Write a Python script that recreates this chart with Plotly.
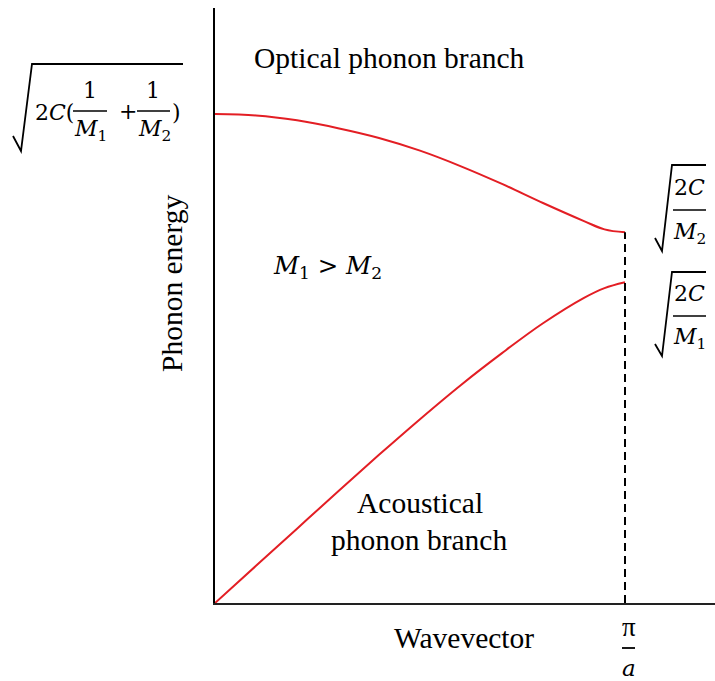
import plotly.graph_objects as go

# Wavevector in units of pi/a, energy in units of sqrt(2C(1/M1 + 1/M2))
optical_k = [0.0, 0.1, 0.2, 0.3, 0.4, 0.5, 0.6, 0.7, 0.8, 0.9, 0.95, 1.0]
optical_e = [1.0, 0.997, 0.987, 0.971, 0.951, 0.925, 0.893, 0.857, 0.818, 0.781, 0.764, 0.758]

acoustic_k = [0.0, 0.1, 0.2, 0.3, 0.4, 0.5, 0.6, 0.7, 0.8, 0.9, 0.95, 1.0]
acoustic_e = [0.0, 0.076, 0.152, 0.228, 0.303, 0.376, 0.446, 0.511, 0.572, 0.624, 0.644, 0.656]

zone_edge = 1.0

W, H = 715, 681
SERIF = "Liberation Serif, Times New Roman, serif"
MATH = "DejaVu Serif, serif"
RED = "#e31e24"


def P(px, py):
    """Figure pixel position -> paper coordinates (margins are zero)."""
    return px / W, 1 - py / H


fig = go.Figure()

for k, e in ((optical_k, optical_e), (acoustic_k, acoustic_e)):
    fig.add_trace(go.Scatter(x=k, y=e, mode="lines",
                             line=dict(color=RED, width=2, shape="spline", smoothing=1.0),
                             hoverinfo="skip"))
# dashed marker at the zone boundary
fig.add_trace(go.Scatter(x=[zone_edge, zone_edge], y=[0, optical_e[-1]], mode="lines",
                         line=dict(color="black", width=2, dash="8px,5px"),
                         hoverinfo="skip"))

annotations = []
shapes = []


def text(px, py, s, size=29.5, family=SERIF, angle=0):
    x, y = P(px, py)
    annotations.append(dict(x=x, y=y, xref="paper", yref="paper", text=s,
                            showarrow=False, xanchor="center", yanchor="middle",
                            textangle=angle,
                            font=dict(family=family, size=size, color="black")))


def hline(x0, x1, py, width=1.6):
    a, y = P(x0, py)
    b, _ = P(x1, py)
    shapes.append(dict(type="line", xref="paper", yref="paper", x0=a, x1=b, y0=y, y1=y,
                       line=dict(color="black", width=width)))


def radical(pts, width=1.8):
    path = ""
    for i, (px, py) in enumerate(pts):
        x, y = P(px, py)
        path += ("M" if i == 0 else "L") + f"{x},{y} "
    shapes.append(dict(type="path", xref="paper", yref="paper", path=path,
                       line=dict(color="black", width=width)))


# Plain labels
text(389, 58, "Optical phonon branch")
text(172, 283, "Phonon energy", angle=-90)
text(464, 638, "Wavevector")
text(420, 503, "Acoustical")
text(419, 540, "phonon branch")
text(327, 267, "<i>M</i><sub>1</sub> &gt; <i>M</i><sub>2</sub>", 24.5, MATH)

# sqrt(2C(1/M1 + 1/M2)) at the zone centre
radical([(13, 136), (21, 151), (32, 64), (183, 64)])
text(54, 113, "2<i>C</i>(", 22, MATH)
text(90, 90, "1", 22, MATH)
hline(73, 107, 111)
text(91, 131, "<i>M</i><sub>1</sub>", 22, MATH)
text(128, 112, "+", 22, MATH)
text(153, 90, "1", 22, MATH)
hline(137, 170, 111)
text(154, 131, "<i>M</i><sub>2</sub>", 22, MATH)
text(176, 113, ")", 22, MATH)

# sqrt(2C/M2)
radical([(655, 238), (662, 251), (672, 165), (706, 165)])
text(689, 187, "2<i>C</i>", 22, MATH)
hline(673, 706, 210)
text(689, 233, "<i>M</i><sub>2</sub>", 22, MATH)

# sqrt(2C/M1)
radical([(655, 344), (662, 356), (672, 272), (706, 272)])
text(689, 293, "2<i>C</i>", 22, MATH)
hline(673, 706, 316)
text(689, 338, "<i>M</i><sub>1</sub>", 22, MATH)

# pi / a under the zone edge
text(629, 627, "π", 27)
hline(622, 635, 648, width=1.8)
text(629, 668, "<i>a</i>", 23, MATH)

x0d, _ = P(215, 0)
_, y0d = P(0, 603)
_, y1d = P(0, 8)

fig.update_layout(
    width=W, height=H,
    margin=dict(l=0, r=0, t=0, b=0),
    paper_bgcolor="white", plot_bgcolor="white",
    showlegend=False,
    annotations=annotations,
    shapes=shapes,
    xaxis=dict(domain=[x0d, 1], range=[0, 500 / 410], showgrid=False, zeroline=False,
               showticklabels=False, ticks="", showline=True, linecolor="#222",
               linewidth=2),
    yaxis=dict(domain=[y0d, y1d], range=[0, 595 / 489], showgrid=False, zeroline=False,
               showticklabels=False, ticks="", showline=True, linecolor="black",
               linewidth=2),
)

fig.write_html("out.html")
